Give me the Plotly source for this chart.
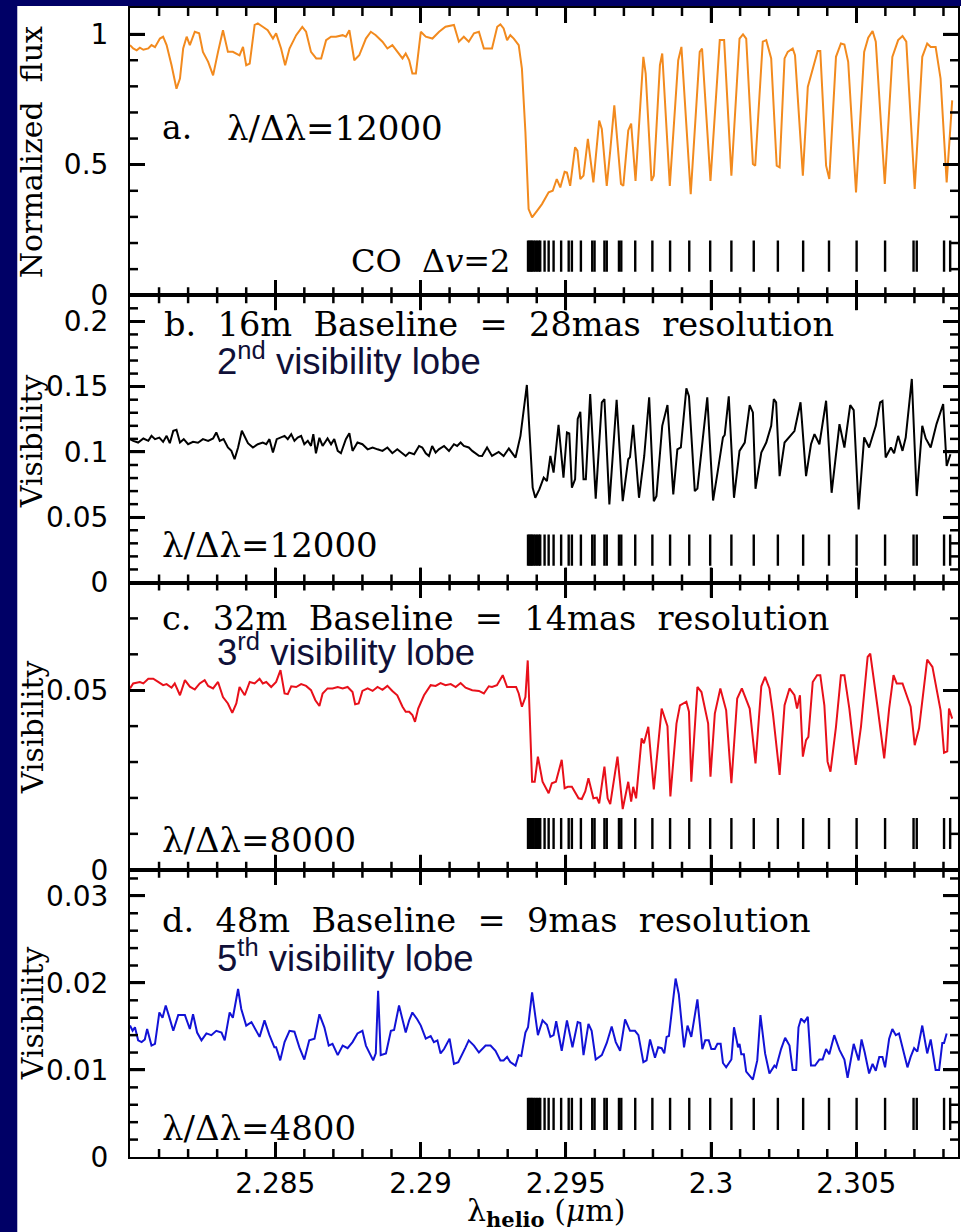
import plotly.graph_objects as go
from plotly.subplots import make_subplots

# ---------------- data (wavelength in micron) ----------------
wl_a = [2.28000, 2.28011, 2.28023, 2.28034, 2.28046, 2.28063, 2.28074, 2.28086, 2.28103, 2.28114,
        2.28126, 2.28143, 2.28160, 2.28172, 2.28183, 2.28195, 2.28206, 2.28223, 2.28238, 2.28251,
        2.28269, 2.28286, 2.28303, 2.28320, 2.28337, 2.28354, 2.28377, 2.28389, 2.28400, 2.28412,
        2.28429, 2.28440, 2.28457, 2.28474, 2.28492, 2.28503, 2.28520, 2.28534, 2.28549, 2.28572,
        2.28593, 2.28606, 2.28623, 2.28641, 2.28658, 2.28675, 2.28692, 2.28709, 2.28732, 2.28743,
        2.28755, 2.28772, 2.28789, 2.28812, 2.28829, 2.28846, 2.28869, 2.28886, 2.28903, 2.28920,
        2.28938, 2.28949, 2.28961, 2.28972, 2.28984, 2.29001, 2.29018, 2.29041, 2.29064, 2.29086,
        2.29115, 2.29132, 2.29149, 2.29166, 2.29184, 2.29201, 2.29218, 2.29246, 2.29264, 2.29275,
        2.29286, 2.29298, 2.29309, 2.29321, 2.29338, 2.29349, 2.29361, 2.29372, 2.29384, 2.29401,
        2.29418, 2.29441, 2.29455, 2.29469, 2.29481, 2.29496, 2.29504, 2.29515, 2.29532, 2.29540,
        2.29550, 2.29561, 2.29576, 2.29595, 2.29615, 2.29624, 2.29641, 2.29653, 2.29667, 2.29690,
        2.29698, 2.29715, 2.29725, 2.29740, 2.29767, 2.29775, 2.29795, 2.29803, 2.29824, 2.29832,
        2.29858, 2.29887, 2.29898, 2.29930, 2.29961, 2.29969, 2.29998, 2.30030, 2.30045, 2.30070,
        2.30098, 2.30110, 2.30121, 2.30144, 2.30152, 2.30178, 2.30190, 2.30207, 2.30226, 2.30236,
        2.30253, 2.30264, 2.30281, 2.30289, 2.30316, 2.30333, 2.30350, 2.30367, 2.30376, 2.30396,
        2.30407, 2.30430, 2.30447, 2.30459, 2.30472, 2.30499, 2.30527, 2.30541, 2.30556, 2.30567,
        2.30598, 2.30624, 2.30644, 2.30659, 2.30672, 2.30701, 2.30727, 2.30744, 2.30756, 2.30773,
        2.30790, 2.30811, 2.30830]
flux_a = [0.958, 0.945, 0.938, 0.948, 0.940, 0.945, 0.958, 0.950, 0.983, 0.990,
          0.958, 0.881, 0.791, 0.830, 0.945, 0.990, 0.958, 1.009, 1.003, 0.932,
          0.894, 0.842, 0.932, 1.015, 0.932, 0.932, 0.919, 0.951, 0.881, 0.887,
          1.035, 1.041, 1.028, 1.015, 0.983, 1.003, 0.945, 0.881, 0.945, 0.996,
          1.028, 1.009, 0.932, 0.907, 0.907, 0.977, 0.990, 0.990, 0.996, 0.990,
          1.015, 0.900, 0.919, 0.983, 1.009, 0.996, 0.971, 0.945, 0.958, 0.932,
          0.907, 0.926, 0.900, 0.849, 0.849, 1.009, 0.990, 0.983, 1.009, 1.028,
          1.035, 0.971, 0.990, 0.971, 1.003, 1.009, 0.945, 0.945, 1.028, 1.037,
          1.022, 0.977, 0.996, 0.983, 0.958, 0.868, 0.625, 0.330, 0.298, 0.323,
          0.349, 0.394, 0.400, 0.445, 0.413, 0.473, 0.470, 0.419, 0.567, 0.554,
          0.445, 0.458, 0.599, 0.432, 0.669, 0.637, 0.419, 0.554, 0.727, 0.426,
          0.419, 0.631, 0.657, 0.438, 0.913, 0.849, 0.438, 0.458, 0.881, 0.926,
          0.419, 0.900, 0.951, 0.387, 0.932, 0.945, 0.438, 0.977, 0.977, 0.458,
          0.983, 0.999, 0.983, 0.503, 0.496, 0.971, 0.977, 0.907, 0.496, 0.490,
          0.907, 0.932, 0.945, 0.919, 0.458, 0.798, 0.868, 0.935, 0.935, 0.496,
          0.445, 0.913, 0.964, 0.960, 0.894, 0.394, 0.932, 0.986, 1.012, 0.971,
          0.426, 0.913, 0.977, 0.993, 0.971, 0.407, 0.913, 0.964, 0.951, 0.951,
          0.830, 0.432, 0.746]

wl_b = [2.28000, 2.28011, 2.28028, 2.28046, 2.28063, 2.28074, 2.28086, 2.28101, 2.28114, 2.28126,
        2.28137, 2.28149, 2.28160, 2.28172, 2.28185, 2.28200, 2.28217, 2.28234, 2.28251, 2.28269,
        2.28286, 2.28297, 2.28309, 2.28322, 2.28337, 2.28349, 2.28360, 2.28372, 2.28385, 2.28397,
        2.28406, 2.28423, 2.28440, 2.28457, 2.28469, 2.28480, 2.28492, 2.28505, 2.28520, 2.28532,
        2.28543, 2.28555, 2.28566, 2.28577, 2.28589, 2.28600, 2.28612, 2.28623, 2.28631, 2.28640,
        2.28652, 2.28663, 2.28680, 2.28692, 2.28703, 2.28715, 2.28726, 2.28743, 2.28755, 2.28766,
        2.28783, 2.28800, 2.28818, 2.28835, 2.28852, 2.28869, 2.28886, 2.28903, 2.28920, 2.28938,
        2.28949, 2.28961, 2.28978, 2.28995, 2.29006, 2.29018, 2.29029, 2.29040, 2.29052, 2.29063,
        2.29081, 2.29098, 2.29115, 2.29126, 2.29138, 2.29149, 2.29166, 2.29178, 2.29201, 2.29212,
        2.29229, 2.29246, 2.29269, 2.29286, 2.29304, 2.29327, 2.29344, 2.29366, 2.29386, 2.29395,
        2.29409, 2.29424, 2.29435, 2.29447, 2.29458, 2.29475, 2.29492, 2.29504, 2.29512, 2.29521,
        2.29532, 2.29541, 2.29550, 2.29561, 2.29569, 2.29584, 2.29603, 2.29624, 2.29633, 2.29650,
        2.29675, 2.29696, 2.29715, 2.29721, 2.29732, 2.29752, 2.29770, 2.29787, 2.29803, 2.29812,
        2.29832, 2.29850, 2.29870, 2.29884, 2.29896, 2.29915, 2.29924, 2.29944, 2.29953, 2.29987,
        2.30007, 2.30024, 2.30041, 2.30047, 2.30061, 2.30079, 2.30098, 2.30116, 2.30133, 2.30144,
        2.30153, 2.30173, 2.30190, 2.30207, 2.30216, 2.30224, 2.30236, 2.30253, 2.30264, 2.30281,
        2.30287, 2.30308, 2.30327, 2.30344, 2.30356, 2.30373, 2.30396, 2.30415, 2.30442, 2.30459,
        2.30479, 2.30491, 2.30508, 2.30527, 2.30544, 2.30567, 2.30582, 2.30590, 2.30601, 2.30619,
        2.30630, 2.30644, 2.30659, 2.30670, 2.30691, 2.30708, 2.30727, 2.30739, 2.30756, 2.30776,
        2.30799, 2.30811, 2.30824]
vis_b = [0.1098, 0.1085, 0.1072, 0.1103, 0.1085, 0.1123, 0.1098, 0.1110, 0.1077, 0.1123,
         0.1067, 0.1162, 0.1170, 0.1072, 0.1098, 0.1059, 0.1077, 0.1070, 0.1098, 0.1085,
         0.1103, 0.1149, 0.1085, 0.1098, 0.1034, 0.1008, 0.0944, 0.1034, 0.1162, 0.1108,
         0.1067, 0.1034, 0.1059, 0.1072, 0.1059, 0.1098, 0.0995, 0.1098, 0.1110, 0.1123,
         0.1098, 0.1136, 0.1085, 0.1110, 0.1123, 0.1059, 0.1085, 0.1046, 0.1136, 0.0990,
         0.1108, 0.1046, 0.1103, 0.1059, 0.1098, 0.1008, 0.0990, 0.1098, 0.1144, 0.1008,
         0.1072, 0.1059, 0.1020, 0.1034, 0.1020, 0.1008, 0.1034, 0.0990, 0.1020, 0.0990,
         0.0969, 0.0995, 0.0982, 0.1046, 0.1034, 0.0990, 0.0969, 0.1046, 0.0995, 0.1020,
         0.1046, 0.1008, 0.1059, 0.1046, 0.1072, 0.1046, 0.1034, 0.1008, 0.0970, 0.0969,
         0.1034, 0.0969, 0.1000, 0.0969, 0.1026, 0.0957, 0.1123, 0.1513, 0.0726, 0.0649,
         0.0713, 0.0803, 0.0777, 0.0969, 0.0842, 0.1208, 0.0803, 0.1149, 0.1141, 0.0726,
         0.0790, 0.1252, 0.1308, 0.0790, 0.0790, 0.1444, 0.0642, 0.1380, 0.1405, 0.0598,
         0.1400, 0.0623, 0.0944, 0.0960, 0.1208, 0.0649, 0.0969, 0.1418, 0.0623, 0.0660,
         0.1200, 0.1359, 0.0675, 0.1020, 0.1034, 0.1487, 0.1426, 0.0700, 0.0720, 0.1418,
         0.0628, 0.0867, 0.1111, 0.1130, 0.1426, 0.0649, 0.1008, 0.1072, 0.1359, 0.1303,
         0.0718, 0.0995, 0.1072, 0.1200, 0.1405, 0.1380, 0.0815, 0.1072, 0.1100, 0.1136,
         0.1160, 0.1380, 0.0815, 0.1059, 0.1136, 0.1059, 0.1392, 0.0687, 0.1213, 0.1034,
         0.1359, 0.1320, 0.0559, 0.1111, 0.1034, 0.1200, 0.1380, 0.1390, 0.0957, 0.1034,
         0.0990, 0.1123, 0.1008, 0.1110, 0.1559, 0.0662, 0.1200, 0.1103, 0.1034, 0.1213,
         0.1367, 0.0892, 0.0982]

wl_c = [2.28000, 2.28011, 2.28034, 2.28046, 2.28063, 2.28080, 2.28097, 2.28114, 2.28126, 2.28143,
        2.28154, 2.28172, 2.28189, 2.28206, 2.28223, 2.28240, 2.28257, 2.28269, 2.28286, 2.28303,
        2.28320, 2.28337, 2.28352, 2.28366, 2.28377, 2.28395, 2.28412, 2.28429, 2.28446, 2.28457,
        2.28469, 2.28486, 2.28503, 2.28518, 2.28532, 2.28543, 2.28555, 2.28572, 2.28589, 2.28606,
        2.28623, 2.28638, 2.28652, 2.28663, 2.28680, 2.28697, 2.28715, 2.28732, 2.28749, 2.28766,
        2.28775, 2.28787, 2.28800, 2.28818, 2.28835, 2.28852, 2.28869, 2.28886, 2.28903, 2.28920,
        2.28938, 2.28949, 2.28961, 2.28972, 2.28981, 2.28992, 2.29012, 2.29035, 2.29052, 2.29069,
        2.29086, 2.29104, 2.29121, 2.29138, 2.29155, 2.29178, 2.29201, 2.29218, 2.29235, 2.29246,
        2.29263, 2.29283, 2.29298, 2.29315, 2.29329, 2.29338, 2.29349, 2.29361, 2.29369, 2.29384,
        2.29393, 2.29404, 2.29420, 2.29441, 2.29452, 2.29466, 2.29486, 2.29496, 2.29507, 2.29521,
        2.29544, 2.29555, 2.29567, 2.29578, 2.29595, 2.29607, 2.29615, 2.29633, 2.29644, 2.29653,
        2.29678, 2.29696, 2.29715, 2.29725, 2.29732, 2.29742, 2.29761, 2.29769, 2.29784, 2.29803,
        2.29830, 2.29850, 2.29860, 2.29881, 2.29893, 2.29915, 2.29924, 2.29932, 2.29953, 2.29967,
        2.29990, 2.29998, 2.30013, 2.30032, 2.30047, 2.30052, 2.30070, 2.30090, 2.30106, 2.30121,
        2.30133, 2.30153, 2.30173, 2.30186, 2.30201, 2.30213, 2.30236, 2.30253, 2.30270, 2.30287,
        2.30296, 2.30306, 2.30316, 2.30327, 2.30335, 2.30350, 2.30365, 2.30376, 2.30390, 2.30401,
        2.30411, 2.30430, 2.30447, 2.30459, 2.30476, 2.30498, 2.30516, 2.30539, 2.30548, 2.30573,
        2.30596, 2.30613, 2.30628, 2.30639, 2.30659, 2.30687, 2.30701, 2.30716, 2.30731, 2.30744,
        2.30762, 2.30776, 2.30790, 2.30802, 2.30813, 2.30819, 2.30830]
vis_c = [0.0505, 0.0519, 0.0523, 0.0519, 0.0532, 0.0532, 0.0523, 0.0514, 0.0517, 0.0507,
         0.0519, 0.0486, 0.0528, 0.0510, 0.0502, 0.0519, 0.0528, 0.0512, 0.0505, 0.0523,
         0.0481, 0.0463, 0.0437, 0.0463, 0.0509, 0.0486, 0.0523, 0.0519, 0.0532, 0.0519,
         0.0523, 0.0509, 0.0523, 0.0556, 0.0491, 0.0489, 0.0511, 0.0509, 0.0517, 0.0512,
         0.0500, 0.0472, 0.0456, 0.0491, 0.0505, 0.0505, 0.0509, 0.0505, 0.0509, 0.0495,
         0.0461, 0.0463, 0.0498, 0.0505, 0.0498, 0.0509, 0.0501, 0.0512, 0.0498, 0.0486,
         0.0454, 0.0440, 0.0440, 0.0431, 0.0412, 0.0449, 0.0486, 0.0514, 0.0512, 0.0520,
         0.0514, 0.0517, 0.0509, 0.0520, 0.0507, 0.0500, 0.0498, 0.0491, 0.0511, 0.0509,
         0.0514, 0.0542, 0.0509, 0.0508, 0.0509, 0.0491, 0.0454, 0.0481, 0.0583, 0.0245,
         0.0245, 0.0315, 0.0245, 0.0213, 0.0241, 0.0245, 0.0306, 0.0227, 0.0231, 0.0231,
         0.0199, 0.0197, 0.0218, 0.0255, 0.0199, 0.0201, 0.0185, 0.0287, 0.0199, 0.0183,
         0.0315, 0.0169, 0.0245, 0.0190, 0.0231, 0.0199, 0.0366, 0.0352, 0.0398, 0.0224,
         0.0449, 0.0400, 0.0204, 0.0407, 0.0458, 0.0468, 0.0440, 0.0245, 0.0509, 0.0495,
         0.0407, 0.0259, 0.0435, 0.0505, 0.0460, 0.0444, 0.0241, 0.0477, 0.0505, 0.0475,
         0.0449, 0.0296, 0.0511, 0.0537, 0.0505, 0.0435, 0.0264, 0.0458, 0.0505, 0.0486,
         0.0449, 0.0486, 0.0315, 0.0361, 0.0370, 0.0523, 0.0542, 0.0542, 0.0458, 0.0301,
         0.0273, 0.0398, 0.0542, 0.0542, 0.0449, 0.0292, 0.0398, 0.0593, 0.0602, 0.0454,
         0.0310, 0.0449, 0.0542, 0.0519, 0.0519, 0.0454, 0.0347, 0.0394, 0.0491, 0.0585,
         0.0565, 0.0509, 0.0444, 0.0326, 0.0330, 0.0449, 0.0421]

wl_d = [2.28000, 2.28009, 2.28017, 2.28028, 2.28040, 2.28051, 2.28059, 2.28074, 2.28086, 2.28101,
        2.28112, 2.28123, 2.28135, 2.28149, 2.28166, 2.28189, 2.28206, 2.28217, 2.28231, 2.28246,
        2.28263, 2.28280, 2.28297, 2.28315, 2.28326, 2.28343, 2.28354, 2.28372, 2.28383, 2.28400,
        2.28418, 2.28429, 2.28446, 2.28463, 2.28480, 2.28497, 2.28503, 2.28517, 2.28532, 2.28549,
        2.28566, 2.28583, 2.28600, 2.28617, 2.28635, 2.28652, 2.28669, 2.28684, 2.28697, 2.28715,
        2.28732, 2.28749, 2.28766, 2.28783, 2.28800, 2.28812, 2.28826, 2.28837, 2.28846, 2.28854,
        2.28863, 2.28881, 2.28898, 2.28909, 2.28926, 2.28938, 2.28949, 2.28961, 2.28972, 2.28989,
        2.29001, 2.29018, 2.29035, 2.29046, 2.29058, 2.29069, 2.29081, 2.29100, 2.29115, 2.29130,
        2.29143, 2.29155, 2.29166, 2.29184, 2.29201, 2.29224, 2.29241, 2.29258, 2.29275, 2.29286,
        2.29298, 2.29309, 2.29327, 2.29338, 2.29347, 2.29361, 2.29370, 2.29384, 2.29404, 2.29420,
        2.29435, 2.29447, 2.29458, 2.29467, 2.29486, 2.29504, 2.29523, 2.29541, 2.29550, 2.29561,
        2.29578, 2.29589, 2.29603, 2.29624, 2.29641, 2.29658, 2.29672, 2.29687, 2.29704, 2.29721,
        2.29738, 2.29750, 2.29767, 2.29778, 2.29790, 2.29807, 2.29818, 2.29830, 2.29839, 2.29847,
        2.29855, 2.29878, 2.29889, 2.29907, 2.29919, 2.29932, 2.29953, 2.29970, 2.29980, 2.29992,
        2.30001, 2.30013, 2.30022, 2.30033, 2.30041, 2.30052, 2.30070, 2.30079, 2.30093, 2.30098,
        2.30104, 2.30113, 2.30121, 2.30144, 2.30159, 2.30170, 2.30186, 2.30201, 2.30218, 2.30224,
        2.30241, 2.30255, 2.30270, 2.30281, 2.30293, 2.30301, 2.30310, 2.30321, 2.30333, 2.30344,
        2.30358, 2.30373, 2.30384, 2.30396, 2.30407, 2.30424, 2.30442, 2.30459, 2.30470, 2.30491,
        2.30508, 2.30518, 2.30529, 2.30544, 2.30556, 2.30567, 2.30579, 2.30590, 2.30599, 2.30613,
        2.30624, 2.30636, 2.30647, 2.30659, 2.30676, 2.30687, 2.30699, 2.30710, 2.30727, 2.30744,
        2.30756, 2.30773, 2.30785, 2.30796, 2.30802, 2.30811]
vis_d = [0.0151, 0.0145, 0.0149, 0.0134, 0.0132, 0.0135, 0.0147, 0.0128, 0.0130, 0.0166,
         0.0160, 0.0174, 0.0161, 0.0145, 0.0163, 0.0163, 0.0147, 0.0164, 0.0143, 0.0134,
         0.0142, 0.0140, 0.0145, 0.0143, 0.0134, 0.0166, 0.0160, 0.0193, 0.0170, 0.0151,
         0.0155, 0.0148, 0.0138, 0.0157, 0.0140, 0.0126, 0.0126, 0.0111, 0.0132, 0.0145,
         0.0144, 0.0126, 0.0112, 0.0134, 0.0136, 0.0164, 0.0149, 0.0128, 0.0130, 0.0117,
         0.0128, 0.0125, 0.0132, 0.0142, 0.0145, 0.0128, 0.0119, 0.0111, 0.0119, 0.0191,
         0.0117, 0.0119, 0.0145, 0.0146, 0.0174, 0.0157, 0.0143, 0.0157, 0.0166, 0.0158,
         0.0151, 0.0136, 0.0139, 0.0132, 0.0134, 0.0119, 0.0124, 0.0136, 0.0107, 0.0109,
         0.0117, 0.0126, 0.0134, 0.0128, 0.0120, 0.0128, 0.0128, 0.0122, 0.0111, 0.0111,
         0.0115, 0.0109, 0.0105, 0.0117, 0.0116, 0.0143, 0.0149, 0.0189, 0.0140, 0.0157,
         0.0152, 0.0138, 0.0140, 0.0156, 0.0122, 0.0157, 0.0126, 0.0155, 0.0154, 0.0117,
         0.0153, 0.0145, 0.0112, 0.0117, 0.0131, 0.0150, 0.0132, 0.0122, 0.0158, 0.0145,
         0.0145, 0.0140, 0.0109, 0.0111, 0.0135, 0.0114, 0.0126, 0.0125, 0.0119, 0.0138,
         0.0139, 0.0205, 0.0187, 0.0126, 0.0151, 0.0138, 0.0181, 0.0124, 0.0134, 0.0134,
         0.0124, 0.0124, 0.0130, 0.0130, 0.0108, 0.0103, 0.0112, 0.0149, 0.0126, 0.0130,
         0.0118, 0.0118, 0.0098, 0.0089, 0.0111, 0.0163, 0.0119, 0.0096, 0.0105, 0.0103,
         0.0124, 0.0137, 0.0128, 0.0100, 0.0100, 0.0149, 0.0159, 0.0155, 0.0161, 0.0105,
         0.0105, 0.0112, 0.0112, 0.0124, 0.0118, 0.0140, 0.0123, 0.0112, 0.0091, 0.0130,
         0.0111, 0.0135, 0.0120, 0.0096, 0.0107, 0.0099, 0.0115, 0.0115, 0.0103, 0.0136,
         0.0147, 0.0140, 0.0142, 0.0125, 0.0103, 0.0115, 0.0125, 0.0121, 0.0151, 0.0119,
         0.0135, 0.0100, 0.0100, 0.0131, 0.0131, 0.0142]

# CO (Delta v = 2) line positions (micron)
co_lines = [2.29370, 2.29375, 2.29379, 2.29384, 2.29389, 2.29395, 2.29401, 2.29407, 2.29412,
            2.29427, 2.29441, 2.29458, 2.29484, 2.29510, 2.29521, 2.29552, 2.29591, 2.29599,
            2.29633, 2.29641, 2.29683, 2.29691, 2.29739, 2.29798, 2.29859, 2.29925, 2.29997,
            2.30070, 2.30147, 2.30230, 2.30317, 2.30406, 2.30501, 2.30599, 2.30697, 2.30708,
            2.30802, 2.30823]

x_range = [2.28, 2.3085]
x_major = [2.285, 2.29, 2.295, 2.3, 2.305]
x_labels = ["2.285", "2.29", "2.295", "2.3", "2.305"]
x_minor_step = 0.001

y_ranges = [[0, 1.1], [0, 0.22], [0, 0.08], [0, 0.033]]
y_major = [[0, 0.5, 1], [0, 0.05, 0.1, 0.15, 0.2], [0, 0.05], [0, 0.01, 0.02, 0.03]]
y_labels = [["0", "0.5", "1"], ["0", "0.05", "0.1", "0.15", "0.2"], ["0", "0.05"],
            ["0", "0.01", "0.02", "0.03"]]
y_minor = [0.1, 0.01, 0.01, 0.002]
co_span = [[0.09, 0.21], [0.0128, 0.0367], [0.0058, 0.0144], [0.0031, 0.0068]]

series = [(wl_a, flux_a), (wl_b, vis_b), (wl_c, vis_c), (wl_d, vis_d)]
for w, v in series:
    assert len(w) == len(v), (len(w), len(v))

colors = ["#F28A1E", "#000000", "#E8101A", "#1212D6"]

# ---------------- layout helpers ----------------
W, H = 961, 1232
ML, MR, MT, MB = 130, 1, 8, 75
PW, PH = W - ML - MR, H - MT - MB
MAJ, MIN = 15, 8  # tick lengths in px
TICK_W = 2.5


def fx(px):
    return (px - ML) / PW


def fy(py):
    return (H - MB - py) / PH


fig = make_subplots(rows=4, cols=1, shared_xaxes=True, vertical_spacing=0)

for i, (w, v) in enumerate(series):
    fig.add_trace(go.Scatter(x=w, y=v, mode="lines",
                             line=dict(color=colors[i], width=2), hoverinfo="skip"),
                  row=i + 1, col=1)
    xs, ys = [], []
    lo, hi = co_span[i]
    for c in co_lines:
        xs += [c, c, None]
        ys += [lo, hi, None]
    fig.add_trace(go.Scatter(x=xs, y=ys, mode="lines",
                             line=dict(color="black", width=2.4), hoverinfo="skip"),
                  row=i + 1, col=1)

tick_font = dict(family="DejaVu Sans", size=28, color="black")
for i in range(4):
    fig.update_xaxes(range=x_range, showline=True, linecolor="black", linewidth=2,
                     mirror="allticks", ticks="inside", ticklen=MAJ, tickwidth=TICK_W,
                     tickcolor="#000000", tickvals=x_major, ticktext=x_labels,
                     showgrid=False, zeroline=False, tickfont=tick_font,
                     ticklabelstandoff=0, showticklabels=(i == 3), layer="above traces",
                     row=i + 1, col=1)
    fig.update_yaxes(range=y_ranges[i], showline=True, linecolor="black", linewidth=2,
                     mirror="allticks", ticks="inside", ticklen=MAJ, tickwidth=TICK_W,
                     tickcolor="#000000", tickvals=y_major[i], ticktext=y_labels[i],
                     showgrid=False, zeroline=False, tickfont=tick_font,
                     ticklabelstandoff=14, layer="above traces", row=i + 1, col=1)

# ---------------- tick marks as paper-referenced line shapes ----------------
n_xminor = int(round((x_range[1] - x_range[0]) / x_minor_step))
x_minor = [round(x_range[0] + j * x_minor_step, 6) for j in range(1, n_xminor + 1)]
x_minor = [v for v in x_minor if v < x_range[1] and all(abs(v - m) > 1e-9 for m in x_major)]
xspan = x_range[1] - x_range[0]

shapes = []
tick_line = dict(color="#000000", width=TICK_W)
for i in range(4):
    dom = fig.layout["yaxis" if i == 0 else "yaxis%d" % (i + 1)].domain
    d0, d1 = dom[0], dom[1]
    ymin, ymax = y_ranges[i]
    # x ticks (bottom and top edge of the panel)
    for xv in x_major + x_minor:
        px_ = (xv - x_range[0]) / xspan
        L = (MAJ if xv in x_major else MIN) / PH
        shapes.append(dict(type="line", xref="paper", yref="paper", x0=px_, x1=px_,
                           y0=d0, y1=d0 + L, line=tick_line, layer="above"))
        shapes.append(dict(type="line", xref="paper", yref="paper", x0=px_, x1=px_,
                           y0=d1, y1=d1 - L, line=tick_line, layer="above"))
    # y ticks (left and right edge of the panel)
    step = y_minor[i]
    yv = [round(j * step, 6) for j in range(1, int(ymax / step + 1e-6) + 1)]
    yv = [v_ for v_ in yv if v_ < ymax - 1e-9]
    for yvv in yv:
        is_major = any(abs(yvv - m) < 1e-9 for m in y_major[i])
        py_ = d0 + (yvv - ymin) / (ymax - ymin) * (d1 - d0)
        L = (MAJ if is_major else MIN) / PW
        shapes.append(dict(type="line", xref="paper", yref="paper", x0=0, x1=L,
                           y0=py_, y1=py_, line=tick_line, layer="above"))
        shapes.append(dict(type="line", xref="paper", yref="paper", x0=1, x1=1 - L,
                           y0=py_, y1=py_, line=tick_line, layer="above"))

# ---------------- texts ----------------
serif = "DejaVu Serif"
sans = "Liberation Sans"
lobe_color = "#101038"
nb = "\u00a0"


def title_line(letter, base, res):
    return (letter + "." + nb * 2 + base + nb * 2 + "Baseline" + nb * 2 + "=" + nb * 2 +
            res + nb * 2 + "resolution")


texts = [
    ("a.", 160, 128, serif, 33, "black"),
    ("λ/Δλ=12000", 225, 128, serif, 34, "black"),
    ("CO" + nb * 2 + "Δ<i>v</i>=2", 350, 261, serif, 32, "black"),
    (title_line("b", "16m", "28mas"), 162, 325, serif, 33.6, "black"),
    ("2<sup>nd</sup> visibility lobe", 215, 359, sans, 36.5, lobe_color),
    ("λ/Δλ=12000", 160, 545, serif, 34, "black"),
    (title_line("c", "32m", "14mas"), 160, 618, serif, 33.6, "black"),
    ("3<sup>rd</sup> visibility lobe", 215, 650, sans, 36.5, lobe_color),
    ("λ/Δλ=8000", 160, 840, serif, 34, "black"),
    (title_line("d", "48m", "9mas"), 160, 920, serif, 33.6, "black"),
    ("5<sup>th</sup> visibility lobe", 215, 956, sans, 36.5, lobe_color),
    ("λ/Δλ=4800", 160, 1128, serif, 34, "black"),
]
annotations = []
for t, x, y, fam, sz, col in texts:
    annotations.append(dict(text=t, x=fx(x), y=fy(y), xref="paper", yref="paper",
                            xanchor="left", yanchor="middle", showarrow=False,
                            font=dict(family=fam, size=sz, color=col)))

for t, y in [("Normalized" + nb * 2 + "flux", 152), ("Visibility", 441),
             ("Visibility", 727), ("Visibility", 1013)]:
    annotations.append(dict(text=t, x=fx(32), y=fy(y), xref="paper", yref="paper",
                            xanchor="center", yanchor="middle", textangle=-90,
                            showarrow=False,
                            font=dict(family=serif, size=30, color="black")))

annotations.append(dict(text="λ<sub><b>helio</b></sub> (<i>μ</i>m)", x=fx(548), y=fy(1212),
                        xref="paper", yref="paper", xanchor="center", yanchor="middle",
                        showarrow=False, font=dict(family=serif, size=30, color="black")))

navy = "#000066"
shapes += [
    dict(type="rect", xref="paper", yref="paper", x0=fx(-5), x1=fx(17), y0=fy(H + 5), y1=fy(-5),
         fillcolor=navy, line=dict(width=0), layer="below"),
    dict(type="rect", xref="paper", yref="paper", x0=fx(-5), x1=fx(W + 5), y0=fy(6), y1=fy(-5),
         fillcolor=navy, line=dict(width=0), layer="below"),
]

fig.update_layout(width=W, height=H, margin=dict(l=ML, r=MR, t=MT, b=MB, pad=0),
                  paper_bgcolor="white", plot_bgcolor="white", showlegend=False,
                  annotations=annotations, shapes=shapes)

fig.write_html("out.html", config={"displayModeBar": False},
               post_script="document.body.style.margin='0';document.body.style.overflow='hidden';")
